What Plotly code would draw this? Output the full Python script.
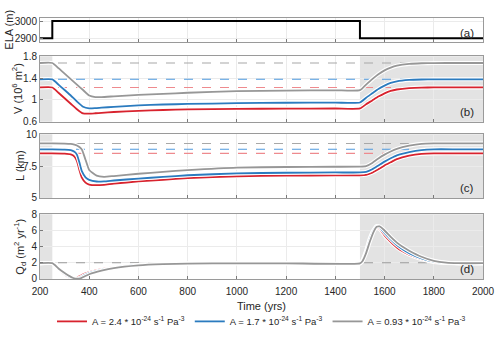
import plotly.graph_objects as go

# ---------------- data ----------------
ela_time = [200, 250, 1500, 2000]
ela_vals = [2900, 3000, 2900, 2900]

shade_periods = [(200, 250), (1500, 2000)]

series_names = [
    "A = 2.4 * 10<sup>-24</sup> s<sup>-1</sup> Pa<sup>-3</sup>",
    "A = 1.7 * 10<sup>-24</sup> s<sup>-1</sup> Pa<sup>-3</sup>",
    "A = 0.93 * 10<sup>-24</sup> s<sup>-1</sup> Pa<sup>-3</sup>",
]
series_colors = ["#d8232e", "#2b7bbf", "#979797"]
dash_colors = ["#ee8a8e", "#4f9be0", "#a8a8a8"]

# Volume (10^6 m^2)
v_time = [200, 250, 275, 300, 325, 350, 375, 400, 425, 450, 500, 600, 700, 800, 1000,
          1200, 1400, 1500, 1525, 1550, 1575, 1600, 1625, 1650, 1700, 1750, 1800, 1900, 2000]
v_red = [1.227, 1.227, 1.13, 1.03, 0.93, 0.83, 0.752, 0.748, 0.755, 0.763, 0.778, 0.80, 0.815, 0.825,
         0.835, 0.840, 0.842, 0.843, 0.92, 0.99, 1.06, 1.12, 1.165, 1.19, 1.215, 1.225, 1.227, 1.227, 1.227]
v_blue = [1.376, 1.376, 1.28, 1.18, 1.08, 0.97, 0.875, 0.845, 0.848, 0.857, 0.873, 0.90, 0.915, 0.925,
          0.940, 0.947, 0.950, 0.952, 1.04, 1.12, 1.20, 1.26, 1.31, 1.34, 1.365, 1.373, 1.376, 1.376, 1.376]
v_gray = [1.675, 1.675, 1.58, 1.48, 1.38, 1.28, 1.18, 1.08, 1.052, 1.052, 1.065, 1.09, 1.11, 1.13,
          1.16, 1.17, 1.175, 1.177, 1.28, 1.38, 1.47, 1.54, 1.59, 1.625, 1.658, 1.670, 1.674, 1.675, 1.675]
v_init = [1.227, 1.376, 1.675]

# Length (km)
l_time = [200, 250, 300, 325, 340, 350, 360, 370, 385, 400, 430, 460, 500, 600, 700, 800, 1000,
          1200, 1400, 1500, 1525, 1550, 1575, 1600, 1625, 1650, 1700, 1750, 1800, 1900, 2000]
l_red = [8.5, 8.5, 8.48, 8.42, 8.25, 7.9, 7.2, 6.6, 6.2, 6.05, 6.0, 6.03, 6.12, 6.3, 6.43, 6.55, 6.7,
         6.75, 6.77, 6.78, 6.82, 6.98, 7.25, 7.55, 7.8, 8.05, 8.32, 8.46, 8.5, 8.5, 8.5]
l_blue = [8.82, 8.82, 8.8, 8.75, 8.62, 8.4, 7.8, 7.1, 6.62, 6.42, 6.29, 6.3, 6.37, 6.52, 6.65, 6.78, 6.93,
          6.98, 7.0, 7.0, 7.05, 7.25, 7.55, 7.85, 8.12, 8.35, 8.6, 8.76, 8.82, 8.82, 8.82]
l_gray = [9.28, 9.28, 9.27, 9.24, 9.18, 9.12, 9.0, 8.8, 8.0, 7.2, 6.75, 6.66, 6.72, 6.9, 7.05, 7.18, 7.38,
          7.43, 7.45, 7.46, 7.5, 7.75, 8.1, 8.4, 8.65, 8.85, 9.1, 9.25, 9.28, 9.28, 9.28]
l_init = [8.5, 8.82, 9.28]

# Ice discharge Qd (m^2 yr^-1)
q_time = [200, 250, 275, 300, 320, 335, 350, 365, 380, 400, 450, 500, 600, 700, 800, 1000, 1200, 1500,
          1510, 1525, 1540, 1555, 1568, 1580, 1600, 1625, 1650, 1675, 1700, 1750, 1800, 1850, 1900, 2000]
q_red = [1.95, 1.95, 1.2, 0.55, 0.15, 0.02, 0.15, 0.4, 0.62, 0.85, 1.22, 1.46, 1.72, 1.85, 1.9, 1.93, 1.94, 1.94,
         2.3, 3.5, 5.0, 6.0, 6.4, 6.2, 5.4, 4.6, 3.9, 3.4, 3.0, 2.45, 2.1, 1.97, 1.95, 1.95]
q_blue = [1.95, 1.95, 1.25, 0.65, 0.25, 0.06, 0.02, 0.2, 0.45, 0.72, 1.12, 1.4, 1.7, 1.84, 1.9, 1.93, 1.94, 1.94,
          2.25, 3.4, 4.9, 6.0, 6.55, 6.4, 5.7, 4.9, 4.2, 3.65, 3.2, 2.55, 2.15, 2.0, 1.95, 1.95]
q_gray = [1.95, 1.95, 1.3, 0.75, 0.35, 0.12, 0.03, 0.08, 0.3, 0.58, 1.02, 1.35, 1.68, 1.83, 1.9, 1.93, 1.94, 1.94,
          2.2, 3.2, 4.6, 5.8, 6.45, 6.5, 6.0, 5.2, 4.5, 3.95, 3.5, 2.75, 2.25, 2.02, 1.95, 1.95]
q_ref = 2.0

# ---------------- layout geometry ----------------
H = 338.0
def dom(top_px, bot_px):
    return [1 - bot_px / H, 1 - top_px / H]

panels = {
    1: dict(dom=dom(12, 37), rng=[2880, 3020], ticks=[2900, 3000], label="(a)"),
    2: dict(dom=dom(52, 120), rng=[0.6, 1.8], ticks=[0.6, 1, 1.4, 1.8], label="(b)"),
    3: dict(dom=dom(133, 199), rng=[5, 10], ticks=[5, 7.5, 10], label="(c)"),
    4: dict(dom=dom(216, 283), rng=[0, 8], ticks=[0, 2, 4, 6, 8], label="(d)"),
}

FONT = "Liberation Sans, Arial, Helvetica, sans-serif"
TXT = "#262626"
fig = go.Figure()

def add_series(times, values_list, ax, legend=False):
    for vals, col, name in zip(values_list, series_colors, series_names):
        fig.add_trace(go.Scatter(x=times, y=vals, mode="lines", xaxis="x" + ax, yaxis="y" + ax,
                                 line=dict(color="white", width=4, shape="spline", smoothing=0.5),
                                 showlegend=False, hoverinfo="skip"))
        fig.add_trace(go.Scatter(x=times, y=vals, mode="lines", xaxis="x" + ax, yaxis="y" + ax,
                                 line=dict(color=col, width=1.8, shape="spline", smoothing=0.5),
                                 name=name, showlegend=legend))

def add_dashed(level, color, ax):
    fig.add_trace(go.Scatter(x=[200, 2000], y=[level, level], mode="lines", xaxis="x" + ax, yaxis="y" + ax,
                             line=dict(color=color, width=1.1, dash="dash"), showlegend=False,
                             hoverinfo="skip"))

# ELA
fig.add_trace(go.Scatter(x=ela_time, y=ela_vals, mode="lines", xaxis="x", yaxis="y",
                         line=dict(color="black", width=2, shape="hv"), showlegend=False))

# V
for lvl, c in zip(v_init, dash_colors):
    add_dashed(lvl, c, "2")
add_series(v_time, [v_red, v_blue, v_gray], "2")
# L
for lvl, c in zip(l_init, dash_colors):
    add_dashed(lvl, c, "3")
add_series(l_time, [l_red, l_blue, l_gray], "3")
# Qd
add_dashed(q_ref, "#9a9a9a", "4")
add_series(q_time, [q_red, q_blue, q_gray], "4", legend=True)

layout = dict(
    width=500, height=338,
    margin=dict(l=40, r=17, t=0, b=0),
    paper_bgcolor="white", plot_bgcolor="rgba(0,0,0,0)",
    font=dict(family=FONT, size=10, color=TXT),
    showlegend=True,
    legend=dict(orientation="h", x=0.5, xanchor="center", y=1 - 327 / H, yanchor="middle",
                font=dict(size=9.5, color=TXT), bgcolor="rgba(0,0,0,0)",
                itemwidth=30, tracegroupgap=0),
)

shapes = []
annotations = []
for i, p in panels.items():
    xa = "xaxis" if i == 1 else f"xaxis{i}"
    ya = "yaxis" if i == 1 else f"yaxis{i}"
    xs = "x" if i == 1 else f"x{i}"
    ys = "y" if i == 1 else f"y{i}"
    layout[xa] = dict(domain=[0, 1], anchor=ys, range=[200, 2000], tickvals=list(range(200, 2001, 200)),
                      showticklabels=(i == 4), ticks="inside", ticklen=3, tickcolor="#7a7a7a",
                      showgrid=True, gridcolor="#ebebeb", gridwidth=1, zeroline=False,
                      showline=True, linecolor="#9a9a9a", linewidth=1, mirror=True,
                      tickfont=dict(size=10, color=TXT))
    if i == 4:
        layout[xa]["ticklabelstandoff"] = 3
        layout[xa]["title"] = dict(text="Time (yrs)", font=dict(size=11), standoff=6)
    layout[ya] = dict(domain=p["dom"], anchor=xs, range=p["rng"], tickvals=p["ticks"],
                      ticks="inside", ticklen=3, tickcolor="#7a7a7a",
                      showgrid=True, gridcolor="#ebebeb", gridwidth=1, zeroline=False,
                      showline=True, linecolor="#9a9a9a", linewidth=1, mirror=True,
                      tickfont=dict(size=10, color=TXT))
    if i > 1:
        for (t0, t1) in shade_periods:
            shapes.append(dict(type="rect", xref=xs, yref=f"{ys} domain", x0=t0, x1=t1, y0=0, y1=1,
                               fillcolor="#e3e3e3", line=dict(width=0), layer="below"))
    annotations.append(dict(text=p["label"], xref=f"{xs} domain", yref=f"{ys} domain",
                            x=0.985, y=0.03, xanchor="right", yanchor="bottom", showarrow=False,
                            font=dict(size=11.5, color=TXT)))

ytitles = [
    ("ELA (m)", 9, (12 + 37) / 2),
    ("V (10<sup>6</sup> m<sup>2</sup>)", 17, (52 + 120) / 2),
    ("L (km)", 20, (133 + 199) / 2),
    ("Q<sub>d</sub> (m<sup>2</sup> yr<sup>-1</sup>)", 20, (216 + 283) / 2),
]
for txt, xp, yp in ytitles:
    annotations.append(dict(text=txt, xref="paper", yref="paper",
                            x=(xp - 40) / 443.0, y=1 - yp / H, xanchor="center", yanchor="middle",
                            textangle=-90, showarrow=False, font=dict(size=11, color=TXT)))

layout["shapes"] = shapes
layout["annotations"] = annotations
fig.update_layout(**layout)
fig.write_html("out.html", config={"displayModeBar": False},
               post_script="document.body.style.margin='0';document.body.style.overflow='hidden';")
